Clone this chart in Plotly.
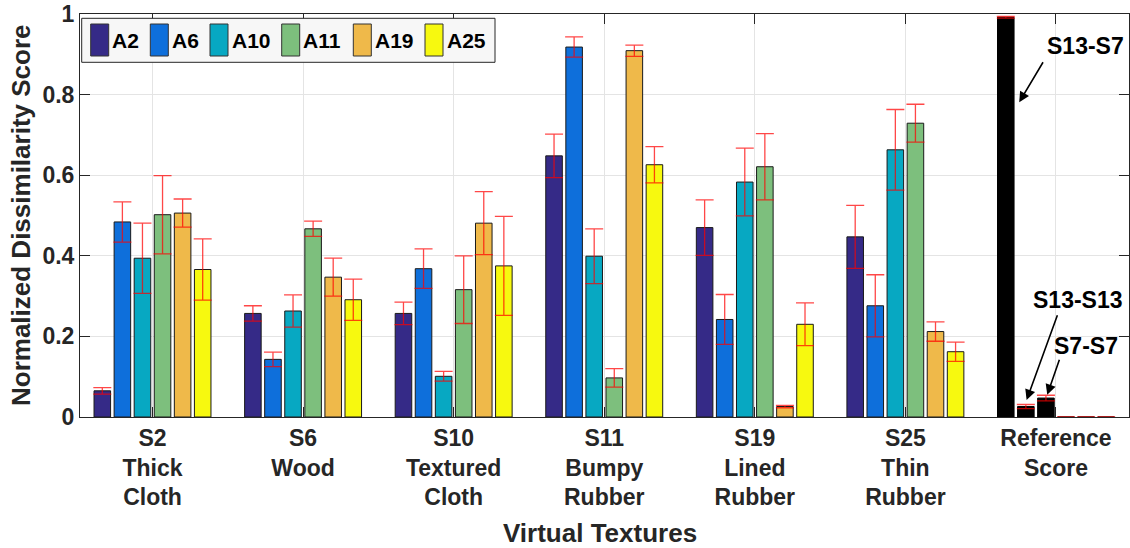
import plotly.graph_objects as go

# ---- data -------------------------------------------------------------
texture_labels = [
    "S2<br>Thick<br>Cloth",
    "S6<br>Wood",
    "S10<br>Textured<br>Cloth",
    "S11<br>Bumpy<br>Rubber",
    "S19<br>Lined<br>Rubber",
    "S25<br>Thin<br>Rubber",
    "Reference<br>Score",
]
series_names = ["A2", "A6", "A10", "A11", "A19", "A25"]

# mean normalized dissimilarity per texture (S2, S6, S10, S11, S19, S25)
a2 = [0.065, 0.257, 0.257, 0.648, 0.470, 0.447]
a6 = [0.484, 0.143, 0.368, 0.918, 0.242, 0.276]
a10 = [0.394, 0.263, 0.101, 0.399, 0.583, 0.663]
a11 = [0.502, 0.467, 0.316, 0.097, 0.621, 0.729]
a19 = [0.506, 0.347, 0.481, 0.909, 0.026, 0.212]
a25 = [0.366, 0.291, 0.375, 0.626, 0.230, 0.162]

# standard error for each mean
a2_err = [0.008, 0.019, 0.028, 0.054, 0.069, 0.078]
a6_err = [0.050, 0.018, 0.049, 0.025, 0.062, 0.077]
a10_err = [0.087, 0.040, 0.012, 0.068, 0.084, 0.100]
a11_err = [0.097, 0.019, 0.084, 0.023, 0.082, 0.047]
a19_err = [0.035, 0.047, 0.078, 0.014, 0.003, 0.024]
a25_err = [0.076, 0.051, 0.123, 0.045, 0.053, 0.024]

# reference pairs shown in the last group
reference_scores = [0.992, 0.026, 0.047, 0.0, 0.0, 0.0]
reference_err = [0.002, 0.005, 0.007, 0.0, 0.0, 0.0]

y_ticks = [0, 0.2, 0.4, 0.6, 0.8, 1]
y_tick_text = ["0", "0.2", "0.4", "0.6", "0.8", "1"]

# ---- style --------------------------------------------------------------
colors = ["#352a87", "#0e6fdb", "#07a8c2", "#7dbf7d", "#efb94a", "#f7f90f"]
FONT = "Liberation Sans, Arial, Helvetica, sans-serif"
AXIS = "#262626"
ERR = "rgba(255,0,0,0.72)"

W, H = 1130, 548
L, R, T, B = 80, 1, 14, 131
PW, PH = W - L - R, H - T - B


def px_x(px):
    return (px - L) / PW


def px_y(py):
    return (H - B - py) / PH


values = [a2, a6, a10, a11, a19, a25]
errors = [a2_err, a6_err, a10_err, a11_err, a19_err, a25_err]
x_tex = list(range(1, len(a2) + 1))
x_ref = len(texture_labels)

fig = go.Figure()
for i, name in enumerate(series_names):
    fig.add_trace(go.Bar(
        x=x_tex, y=values[i], name=name, offsetgroup=str(i),
        marker=dict(color=colors[i], line=dict(color="#1a1a1a", width=1)),
        error_y=dict(type="data", array=errors[i], color=ERR,
                     thickness=1.3, width=9),
        showlegend=False,
    ))
for i in range(len(reference_scores)):
    fig.add_trace(go.Bar(
        x=[x_ref], y=[reference_scores[i]], offsetgroup=str(i),
        marker=dict(color="#000000", line=dict(color="#000000", width=1)),
        error_y=dict(type="data", array=[reference_err[i]], color=ERR,
                     thickness=1.3, width=9),
        showlegend=False,
    ))

# ---- hand-built legend box (tall swatches) -----------------------------
shapes = [dict(type="rect", xref="paper", yref="paper",
               x0=px_x(81.7), x1=px_x(495), y0=px_y(62.3), y1=px_y(18.3),
               line=dict(color=AXIS, width=1), fillcolor="#f7f7f7", layer="above")]
swatch_left = [90.7, 150.3, 210.0, 281.7, 353.3, 425.0]
annotations = []
for i, name in enumerate(series_names):
    x0 = swatch_left[i]
    shapes.append(dict(type="rect", xref="paper", yref="paper",
                       x0=px_x(x0), x1=px_x(x0 + 18), y0=px_y(56), y1=px_y(24),
                       line=dict(color="#333333", width=1), fillcolor=colors[i],
                       layer="above"))
    annotations.append(dict(xref="paper", yref="paper", x=px_x(x0 + 19.5),
                            y=px_y(40.5), text=name, showarrow=False,
                            xanchor="left", yanchor="middle",
                            font=dict(family=FONT, size=21, color="#000000", weight="bold")))

# ---- arrows and labels for the reference bars -------------------------
arrow_specs = [
    # label, label (x, y), arrow tip (x, y), arrow tail (x, y)
    ("S13-S7", (7.199, 0.920), (6.756, 0.781), (6.920, 0.884)),
    ("S13-S13", (7.149, 0.291), (6.805, 0.042), (7.013, 0.256)),
    ("S7-S7", (7.199, 0.177), (6.942, 0.055), (7.026, 0.146)),
]
for label, (lx, ly), (hx, hy), (tx, ty) in arrow_specs:
    annotations.append(dict(x=lx, y=ly, xref="x", yref="y", text=label,
                            showarrow=False, xanchor="center", yanchor="middle",
                            font=dict(family=FONT, size=23, color="#000000", weight="bold")))
    annotations.append(dict(x=hx, y=hy, ax=tx, ay=ty, xref="x", yref="y",
                            axref="x", ayref="y", text="", showarrow=True,
                            arrowhead=2, arrowsize=1.3, arrowwidth=1.6,
                            arrowcolor="#000000", standoff=0, startstandoff=0))

# axis titles
annotations.append(dict(xref="paper", yref="paper", x=px_x(600), y=px_y(533),
                        text="Virtual Textures", showarrow=False,
                        xanchor="center", yanchor="middle",
                        font=dict(family=FONT, size=26, color="#262626", weight="bold")))
annotations.append(dict(xref="paper", yref="paper", x=px_x(21), y=px_y(216),
                        text="Normalized Dissimilarity Score", showarrow=False,
                        textangle=-90, xanchor="center", yanchor="middle",
                        font=dict(family=FONT, size=26, color="#262626", weight="bold")))

axis_common = dict(
    showline=True, linecolor=AXIS, linewidth=1, mirror="ticks",
    ticks="inside", ticklen=10, tickcolor=AXIS, tickwidth=1,
    showgrid=True, gridcolor="#e4e4e4", gridwidth=1, zeroline=False,
    tickfont=dict(family=FONT, size=23, color="#262626", weight="bold"),
)

fig.update_layout(
    width=W, height=H,
    margin=dict(l=L, r=R, t=T, b=B, autoexpand=False),
    paper_bgcolor="#ffffff", plot_bgcolor="#ffffff",
    barmode="group", bargap=0.2, bargroupgap=0.175,
    xaxis=dict(range=[0.5185, 7.485], tickmode="array",
               tickvals=list(range(1, len(texture_labels) + 1)),
               ticktext=texture_labels, **axis_common),
    yaxis=dict(range=[0, 1], tickmode="array", tickvals=y_ticks,
               ticktext=y_tick_text, **axis_common),
    shapes=shapes,
    annotations=annotations,
    font=dict(family=FONT),
)

fig.write_html("out.html")
